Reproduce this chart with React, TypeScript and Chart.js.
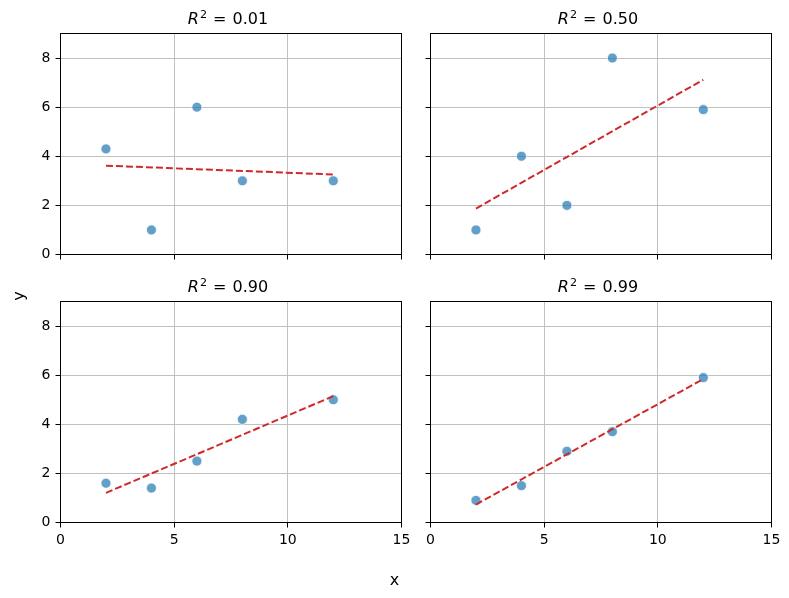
import React, { useEffect, useRef } from 'react';
import { Chart, registerables } from 'chart.js';

Chart.register(...registerables);

// ---- data ----
const xValues = [2, 4, 6, 8, 12];
const yPanelA = [4.3, 1.0, 6.0, 3.0, 3.0];
const yPanelB = [1.0, 4.0, 2.0, 8.0, 5.9];
const yPanelC = [1.6, 1.4, 2.5, 4.2, 5.0];
const yPanelD = [0.9, 1.5, 2.9, 3.7, 5.9];
const r2Labels = ['0.01', '0.50', '0.90', '0.99'];
const xTicks = [0, 5, 10, 15];
const yTicks = [0, 2, 4, 6, 8];
const xRange = [0, 15];
const yRange = [0, 9];
const xAxisLabel = 'x';
const yAxisLabel = 'y';

// ---- layout ----
const PAGE_W = 789;
const PAGE_H = 598;
const PLOT_W = 341;
const PLOT_H = 221;
const COL_LEFT = [60.5, 430.5];
const ROW_TOP = [33.5, 301.5];
const Y_AXIS_W = 45;
const X_AXIS_H = 35;
const FONT = '"DejaVu Sans", "Liberation Sans", sans-serif';

function fitLine(xs: number[], ys: number[]) {
  const n = xs.length;
  const mx = xs.reduce((a, b) => a + b, 0) / n;
  const my = ys.reduce((a, b) => a + b, 0) / n;
  let sxy = 0;
  let sxx = 0;
  for (let i = 0; i < n; i++) {
    sxy += (xs[i] - mx) * (ys[i] - my);
    sxx += (xs[i] - mx) * (xs[i] - mx);
  }
  const slope = sxy / sxx;
  const intercept = my - slope * mx;
  const x0 = Math.min(...xs);
  const x1 = Math.max(...xs);
  return [
    { x: x0, y: intercept + slope * x0 },
    { x: x1, y: intercept + slope * x1 },
  ];
}

const panels = [
  { ys: yPanelA, r2: r2Labels[0], col: 0, row: 0 },
  { ys: yPanelB, r2: r2Labels[1], col: 1, row: 0 },
  { ys: yPanelC, r2: r2Labels[2], col: 0, row: 1 },
  { ys: yPanelD, r2: r2Labels[3], col: 1, row: 1 },
];

const framePlugin = {
  id: 'frame',
  afterDraw(chart: any) {
    const { ctx, chartArea: a } = chart;
    ctx.save();
    ctx.strokeStyle = '#000';
    ctx.lineWidth = 1;
    ctx.strokeRect(a.left, a.top, a.right - a.left, a.bottom - a.top);
    ctx.restore();
  },
};

function Panel({ ys, col, row }: { ys: number[]; col: number; row: number }) {
  const ref = useRef<HTMLCanvasElement | null>(null);
  useEffect(() => {
    if (!ref.current) return;
    const left = COL_LEFT[col];
    const top = ROW_TOP[row];
    const showYLabels = col === 0;
    const showXLabels = row === 1;
    const chart = new Chart(ref.current, {
      type: 'scatter',
      data: {
        datasets: [
          {
            data: fitLine(xValues, ys),
            showLine: true,
            borderColor: '#d0292a',
            borderWidth: 2,
            borderDash: [7, 3],
            pointRadius: 0,
            fill: false,
            order: 0,
          },
          {
            data: xValues.map((x, i) => ({ x, y: ys[i] })),
            backgroundColor: 'rgba(31,119,180,0.7)',
            borderColor: 'rgba(255,255,255,0.9)',
            borderWidth: 0.8,
            pointRadius: 5,
            order: 1,
          },
        ],
      } as any,
      options: {
        animation: false,
        responsive: false,
        devicePixelRatio: 1,
        layout: {
          padding: {
            left: left - Y_AXIS_W,
            top: top,
            right: PAGE_W - (left + PLOT_W),
            bottom: PAGE_H - (top + PLOT_H) - X_AXIS_H,
          },
        },
        plugins: {
          legend: { display: false },
          tooltip: { enabled: false },
          title: { display: false },
        },
        scales: {
          x: {
            type: 'linear',
            min: xRange[0],
            max: xRange[1],
            afterBuildTicks: (s: any) => {
              s.ticks = xTicks.map((v) => ({ value: v }));
            },
            afterFit: (s: any) => {
              s.height = X_AXIS_H;
            },
            grid: {
              color: '#c0c0c0',
              lineWidth: 1,
              drawTicks: true,
              tickLength: 5,
              tickColor: '#000',
              tickWidth: 1,
            },
            border: { display: true, color: '#000', width: 1 },
            ticks: {
              display: showXLabels,
              padding: 4,
              color: '#000',
              font: { family: FONT, size: 14 },
              maxRotation: 0,
              autoSkip: false,
            },
          },
          y: {
            type: 'linear',
            min: yRange[0],
            max: yRange[1],
            afterBuildTicks: (s: any) => {
              s.ticks = yTicks.map((v) => ({ value: v }));
            },
            afterFit: (s: any) => {
              s.width = Y_AXIS_W;
            },
            grid: {
              color: '#c0c0c0',
              lineWidth: 1,
              drawTicks: true,
              tickLength: 5,
              tickColor: '#000',
              tickWidth: 1,
            },
            border: { display: true, color: '#000', width: 1 },
            ticks: {
              display: showYLabels,
              padding: 5,
              color: '#000',
              font: { family: FONT, size: 14 },
              autoSkip: false,
            },
          },
        },
      } as any,
      plugins: [framePlugin],
    });
    return () => chart.destroy();
  }, [ys, col, row]);
  return (
    <canvas
      ref={ref}
      width={PAGE_W}
      height={PAGE_H}
      style={{ position: 'absolute', left: 0, top: 0, width: PAGE_W, height: PAGE_H }}
    />
  );
}

export default function App() {
  const titleSize = 16;
  return (
    <div
      style={{
        position: 'absolute',
        left: 0,
        top: 0,
        width: PAGE_W,
        height: PAGE_H,
        background: '#fff',
        fontFamily: FONT,
        color: '#000',
        overflow: 'hidden',
      }}
    >
      {panels.map((p, i) => (
        <Panel key={i} ys={p.ys} col={p.col} row={p.row} />
      ))}
      {panels.map((p, i) => (
        <div
          key={'t' + i}
          style={{
            position: 'absolute',
            left: COL_LEFT[p.col] - 3,
            width: PLOT_W,
            top: ROW_TOP[p.row] - 8.5 - 0.846 * titleSize,
            height: titleSize,
            lineHeight: titleSize + 'px',
            fontSize: titleSize,
            textAlign: 'center',
            whiteSpace: 'nowrap',
          }}
        >
          <span style={{ fontStyle: 'italic' }}>R</span>
          <span style={{ fontSize: titleSize * 0.7, position: 'relative', top: -6, marginLeft: 1 }}>2</span>
          <span style={{ marginLeft: 6, marginRight: 6 }}>=</span>
          {p.r2}
        </div>
      ))}
      <div
        style={{
          position: 'absolute',
          left: 0,
          width: PAGE_W,
          top: 571.5,
          height: 16,
          lineHeight: '16px',
          fontSize: 16,
          textAlign: 'center',
        }}
      >
        {xAxisLabel}
      </div>
      <div
        style={{
          position: 'absolute',
          left: 19 - 50,
          top: 296 - 8,
          width: 100,
          height: 16,
          lineHeight: '16px',
          fontSize: 16,
          textAlign: 'center',
          transform: 'rotate(-90deg)',
          transformOrigin: '50% 50%',
        }}
      >
        {yAxisLabel}
      </div>
    </div>
  );
}
